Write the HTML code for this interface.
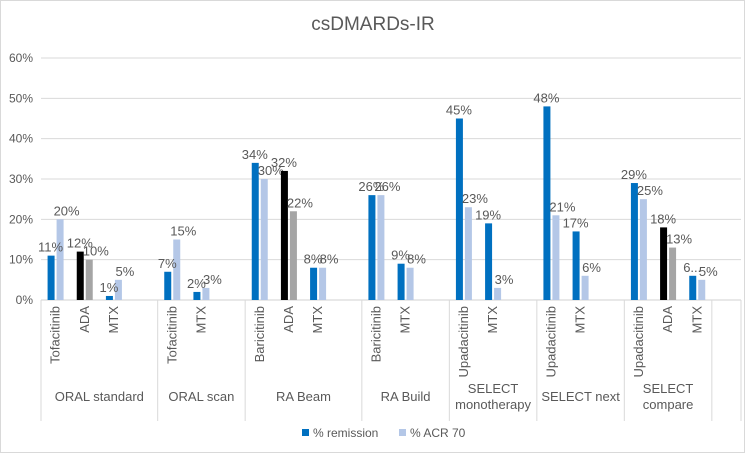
<!DOCTYPE html>
<html><head><meta charset="utf-8"><style>
body{margin:0;background:#fff;font-family:"Liberation Sans",sans-serif}
#wrap{position:relative;width:745px;height:453px;border:1px solid #d9d9d9;box-sizing:border-box;overflow:hidden}
text{font-family:"Liberation Sans",sans-serif}
</style></head><body>
<div id="wrap">
<svg id="chart" width="745" height="453"></svg>
</div>
<script>
const groups=["ORAL standard","ORAL scan","RA Beam","RA Build","SELECT monotherapy","SELECT next","SELECT compare",""];
const groupSizes=[4,3,4,3,3,3,3,1];
const drugs=[["Tofacitinib","ADA","MTX"],["Tofacitinib","MTX"],["Baricitinib","ADA","MTX"],["Baricitinib","MTX"],["Upadacitinib","MTX"],["Upadacitinib","MTX"],["Upadacitinib","ADA","MTX"],[]];
const remission=[[11,12,1],[7,2],[34,32,8],[26,9],[45,19],[48,17],[29,18,6],[]];
const acr70=[[20,10,5],[15,3],[30,22,8],[26,8],[23,3],[21,6],[25,13,5],[]];
const remLabels=[["11%","12%","1%"],["7%","2%"],["34%","32%","8%"],["26%","9%"],["45%","19%"],["48%","17%"],["29%","18%","6..."],[]];
const yTicks=[0,10,20,30,40,50,60];

const svg=document.getElementById('chart');
const NS="http://www.w3.org/2000/svg";
const X0=40,X1=740,Y0=299,Y60=57;
const totalSlots=groupSizes.reduce((a,b)=>a+b,0);
const slotW=(X1-X0)/totalSlots;
const y=v=>Y0-(v/60)*(Y0-Y60);
function mk(tag,attrs,txt){const e=document.createElementNS(NS,tag);for(const k in attrs)e.setAttribute(k,attrs[k]);if(txt!=null)e.textContent=txt;svg.appendChild(e);return e;}

let t=mk('text',{x:372,y:29,'text-anchor':'middle','font-size':19,fill:'#595959'},'csDMARDs-IR');



yTicks.forEach(v=>{
 const l=mk('line',{x1:X0,x2:X1,y1:y(v),y2:y(v),stroke:v===0?'#d0d0d0':'#d9d9d9','stroke-width':1});
 
 
 const tx=mk('text',{x:32,y:y(v)+4,'text-anchor':'end','font-size':12,fill:'#595959'},v+'%');
 
 
});

let slot=0;
groups.forEach((g,gi)=>{
 const gx0=X0+slot*slotW, gx1=gx0+groupSizes[gi]*slotW;
 const sep=mk('line',{x1:gx0,x2:gx0,y1:Y0,y2:420,stroke:'#d9d9d9'});
 
 
 if(gi===groups.length-1){const s2=mk('line',{x1:gx1,x2:gx1,y1:Y0,y2:420,stroke:'#d9d9d9'});}
 const cx=(gx0+gx1)/2;
 const lines=g==="SELECT monotherapy"?["SELECT","monotherapy"]:g==="SELECT compare"?["SELECT","compare"]:[g];
 lines.forEach((ln,li)=>{
  const gt=mk('text',{x:cx,y:(lines.length>1?392:400)+li*16,'text-anchor':'middle','font-size':13,fill:'#595959'},ln);
  
  
 });
 drugs[gi].forEach((d,di)=>{
  const sc=X0+(slot+di+0.5)*slotW;
  const isADA=d==="ADA";
  const bw=7;
  const r=mk('rect',{x:sc-bw-1,y:y(remission[gi][di]),width:bw,height:Y0-y(remission[gi][di]),fill:isADA?'#000000':'#0070C0'});
  
  
  const a=mk('rect',{x:sc+1,y:y(acr70[gi][di]),width:bw,height:Y0-y(acr70[gi][di]),fill:isADA?'#A5A5A5':'#B4C7E7'});
  
  
  const l1=mk('text',{x:sc-5,y:y(remission[gi][di])-4,'text-anchor':'middle','font-size':13,fill:'#595959'},remLabels[gi][di]);
  
  
  const l2=mk('text',{x:sc+11,y:y(acr70[gi][di])-4,'text-anchor':'middle','font-size':13,fill:'#595959'},acr70[gi][di]+'%');
  
  
  const ct=mk('text',{x:0,y:0,'text-anchor':'end','font-size':13,fill:'#595959',transform:`translate(${sc+4},305) rotate(-90)`},d);
  
  
 });
 slot+=groupSizes[gi];
});

const lg=[['#0070C0','% remission',301],['#B4C7E7','% ACR 70',398]];
lg.forEach(([c,txt,x])=>{
 const r=mk('rect',{x:x,y:428,width:7,height:7,fill:c});
 
 
 const tt=mk('text',{x:x+11,y:436,'font-size':12,fill:'#595959'},txt);
 
 
});
</script>
</body></html>
